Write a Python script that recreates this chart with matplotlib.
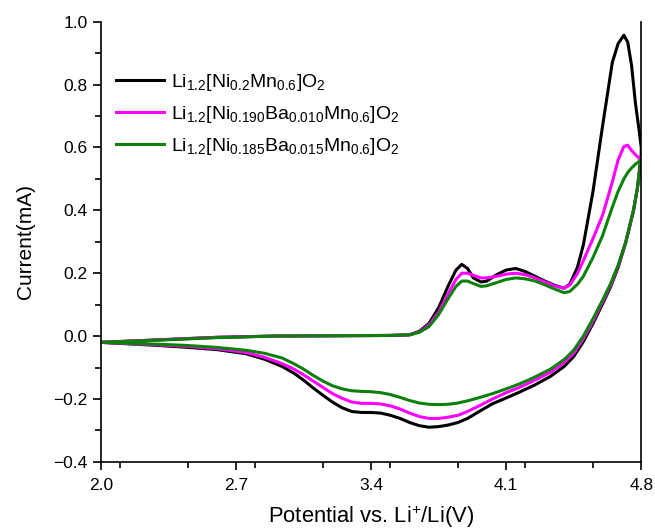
import numpy as np
import matplotlib
matplotlib.use("Agg")
import matplotlib.pyplot as plt
from matplotlib.ticker import MultipleLocator

plt.rcParams['font.family'] = ['Liberation Sans', 'DejaVu Sans']
plt.rcParams['mathtext.fontset'] = 'custom'
plt.rcParams['mathtext.rm'] = 'Liberation Sans'
plt.rcParams['mathtext.default'] = 'regular'

# Barrido anódico (2.0 -> 4.8 V)
v_ida = [2.0, 2.3, 2.6, 2.9, 3.2, 3.5, 3.6, 3.65, 3.7, 3.75, 3.8, 3.84, 3.87, 3.9,
         3.93, 3.97, 4.0, 4.05, 4.1, 4.15, 4.2, 4.25, 4.3, 4.35, 4.4, 4.43, 4.47,
         4.5, 4.55, 4.6, 4.65, 4.68, 4.71, 4.73, 4.75, 4.77, 4.79, 4.8]
i_ida_ni = [-0.02, -0.012, -0.004, 0.0, 0.001, 0.002, 0.004, 0.015, 0.04, 0.09,
            0.16, 0.21, 0.228, 0.215, 0.185, 0.172, 0.175, 0.195, 0.21, 0.215,
            0.205, 0.19, 0.175, 0.162, 0.152, 0.165, 0.22, 0.29, 0.46, 0.67,
            0.87, 0.93, 0.957, 0.935, 0.86, 0.74, 0.65, 0.60]
i_ida_ba10 = [-0.02, -0.012, -0.004, 0.0, 0.001, 0.002, 0.004, 0.013, 0.035, 0.075,
              0.135, 0.18, 0.2, 0.2, 0.193, 0.185, 0.185, 0.19, 0.197, 0.2,
              0.195, 0.185, 0.172, 0.16, 0.152, 0.162, 0.2, 0.24, 0.31, 0.385,
              0.49, 0.56, 0.603, 0.607, 0.59, 0.577, 0.565, 0.56]
i_ida_ba15 = [-0.02, -0.013, -0.005, 0.0, 0.001, 0.002, 0.004, 0.012, 0.03, 0.068,
              0.12, 0.158, 0.175, 0.175, 0.167, 0.158, 0.16, 0.17, 0.18, 0.185,
              0.182, 0.175, 0.163, 0.15, 0.138, 0.142, 0.165, 0.19, 0.25, 0.32,
              0.41, 0.46, 0.50, 0.52, 0.535, 0.547, 0.556, 0.56]

# Barrido catódico (4.8 -> 2.0 V)
v_vuelta = [4.8, 4.78, 4.76, 4.72, 4.68, 4.64, 4.6, 4.55, 4.5, 4.45, 4.4, 4.33,
            4.25, 4.17, 4.1, 4.03, 3.96, 3.9, 3.85, 3.8, 3.75, 3.7, 3.65, 3.6,
            3.55, 3.5, 3.45, 3.4, 3.35, 3.3, 3.25, 3.2, 3.15, 3.1, 3.05, 3.0,
            2.94, 2.85, 2.75, 2.6, 2.45, 2.3, 2.15, 2.0]
i_vuelta_ni = [0.58, 0.47, 0.40, 0.298, 0.218, 0.155, 0.103, 0.04, -0.018, -0.065,
               -0.097, -0.128, -0.155, -0.178, -0.197, -0.215, -0.24, -0.262,
               -0.275, -0.283, -0.288, -0.29, -0.285, -0.275, -0.262, -0.252,
               -0.245, -0.243, -0.243, -0.24, -0.228, -0.21, -0.188, -0.165,
               -0.14, -0.118, -0.097, -0.074, -0.056, -0.043, -0.036, -0.03,
               -0.025, -0.02]
i_vuelta_ba10 = [0.56, 0.47, 0.40, 0.30, 0.222, 0.16, 0.11, 0.048, -0.008, -0.055,
                 -0.085, -0.115, -0.14, -0.163, -0.18, -0.2, -0.222, -0.24,
                 -0.252, -0.258, -0.262, -0.262, -0.256, -0.245, -0.232, -0.222,
                 -0.216, -0.214, -0.214, -0.21, -0.198, -0.183, -0.163, -0.143,
                 -0.123, -0.105, -0.088, -0.068, -0.052, -0.04, -0.033, -0.028,
                 -0.024, -0.02]
i_vuelta_ba15 = [0.56, 0.47, 0.40, 0.30, 0.225, 0.165, 0.115, 0.055, 0.0, -0.045,
                 -0.075, -0.105, -0.13, -0.152, -0.168, -0.183, -0.196, -0.206,
                 -0.213, -0.217, -0.218, -0.217, -0.213, -0.205, -0.195, -0.186,
                 -0.18, -0.177, -0.176, -0.174, -0.168, -0.158, -0.143, -0.125,
                 -0.105, -0.088, -0.07, -0.055, -0.045, -0.036, -0.03, -0.026,
                 -0.023, -0.02]

etiquetas = [r'Li$_{1.2}$[Ni$_{0.2}$Mn$_{0.6}$]O$_2$',
             r'Li$_{1.2}$[Ni$_{0.190}$Ba$_{0.010}$Mn$_{0.6}$]O$_2$',
             r'Li$_{1.2}$[Ni$_{0.185}$Ba$_{0.015}$Mn$_{0.6}$]O$_2$']
colores = ['black', '#ff00ff', '#0b800b']

fig = plt.figure(figsize=(6.55, 5.29), dpi=100)
ax = fig.add_axes([0.154, 0.127, 0.825, 0.832])

curvas = [(i_ida_ni, i_vuelta_ni), (i_ida_ba10, i_vuelta_ba10), (i_ida_ba15, i_vuelta_ba15)]
for (ida, vuelta), color, etiqueta in zip(curvas, colores, etiquetas):
    v = np.concatenate([v_ida, v_vuelta])
    i = np.concatenate([ida, vuelta])
    ax.plot(v, i, color=color, lw=2.2, label=etiqueta)

ax.set_xlim(2.0, 4.8)
ax.set_ylim(-0.4, 1.0)
ax.set_xticks([2.0, 2.7, 3.4, 4.1, 4.8])
ax.xaxis.set_minor_locator(MultipleLocator(0.35))
ax.yaxis.set_major_locator(MultipleLocator(0.2))
ax.yaxis.set_minor_locator(MultipleLocator(0.1))
ax.tick_params(which='major', direction='out', length=6, width=1.2, labelsize=12.5)
ax.tick_params(axis='x', which='major', pad=6)
ax.tick_params(which='minor', direction='out', length=4, width=1.2)
ax.spines['top'].set_visible(False)
for s in ['left', 'bottom', 'right']:
    ax.spines[s].set_linewidth(1.2)
ax.set_xlabel(r'Potential vs. Li$^{+}$/Li(V)', fontsize=15.8, labelpad=7)
ax.set_ylabel('Current(mA)', fontsize=15, labelpad=13)

ax.legend(loc='upper left', bbox_to_anchor=(-0.005, 0.925), frameon=False,
          fontsize=14, handlelength=2.5, handletextpad=0.35, labelspacing=0.55)

fig.savefig('out.png', dpi=100)
